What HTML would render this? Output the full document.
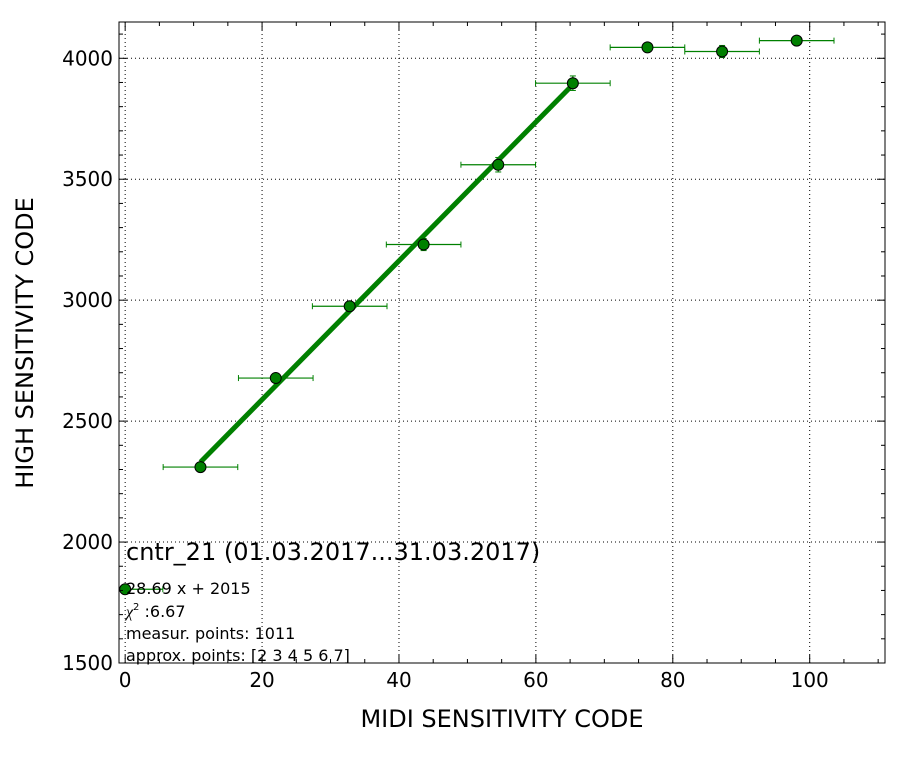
<!DOCTYPE html>
<html><head><meta charset="utf-8"><style>
body{margin:0;background:#fff}
svg text{font-family:"DejaVu Sans","Liberation Sans",sans-serif}
</style></head><body>
<svg id="chart" width="912" height="762" xmlns="http://www.w3.org/2000/svg">
<rect width="912" height="762" fill="#fff"/>
<g id="grid"></g>
<g id="marks"></g>
<rect x="119" y="22" width="766" height="641" fill="none" stroke="#000" stroke-width="1"/>
<g id="axes"></g>
<text x="502" y="727" font-size="24" text-anchor="middle">MIDI SENSITIVITY CODE</text>
<text transform="translate(33,343) rotate(-90)" font-size="24" text-anchor="middle">HIGH SENSITIVITY CODE</text>
<text x="126" y="560" font-size="24">cntr_21 (01.03.2017...31.03.2017)</text>
<text x="126" y="594" font-size="16">28.69 x + 2015</text>
<text x="126" y="617" font-size="16"><tspan font-style="italic" font-family="Liberation Serif">χ</tspan><tspan font-size="10" dy="-7">2</tspan><tspan dy="7"> :6.67</tspan></text>
<text x="126" y="639" font-size="16">measur. points: 1011</text>
<text x="126" y="661" font-size="16">approx. points: [2 3 4 5 6 7]</text>
</svg>
<script>
const xVals=[0,11,22,32.8,43.6,54.5,65.4,76.3,87.2,98.1];
const yVals=[1805,2310,2678,2975,3230,3560,3897,4045,4028,4073];
const xErr=[5.5,5.45,5.45,5.45,5.45,5.45,5.45,5.45,5.45,5.45];
const yErr=[8,12,15,18,25,30,30,15,25,15];
const fitSlope=28.69, fitIntercept=2015;
const fitRange=[11,65.4];
const xTicks=[0,20,40,60,80,100];
const yTicks=[1500,2000,2500,3000,3500,4000];
const L=119,R=885,T=22,B=663,X0=-0.9,X1=111,Y0=1500,Y1=4150;
const sx=v=>L+(v-X0)/(X1-X0)*(R-L);
const sy=v=>B-(v-Y0)/(Y1-Y0)*(B-T);
const NS='http://www.w3.org/2000/svg';
function mk(tag,parent,attrs){const e=document.createElementNS(NS,tag);for(const k in attrs)e.setAttribute(k,attrs[k]);document.getElementById(parent).appendChild(e);return e;}
const green='#008000';
xTicks.forEach(t=>{const x=sx(t);
 let g=mk('line','grid',{x1:x,x2:x,y1:T,y2:B,stroke:'#000','stroke-dasharray':'1,3','stroke-width':1});
 
 mk('line','axes',{x1:x,x2:x,y1:B,y2:B-8,stroke:'#000'});mk('line','axes',{x1:x,x2:x,y1:T,y2:T+8,stroke:'#000'});
 let tx=mk('text','axes',{x:x,y:B+24,'font-size':20,'text-anchor':'middle'});tx.textContent=t;
 });
for(let m=0;m<=110;m+=5){if(m%20===0)continue;const x=sx(m);mk('line','axes',{x1:x,x2:x,y1:B,y2:B-4,stroke:'#000'});mk('line','axes',{x1:x,x2:x,y1:T,y2:T+4,stroke:'#000'});}
yTicks.forEach(t=>{const y=sy(t);
 let g=mk('line','grid',{x1:L,x2:R,y1:y,y2:y,stroke:'#000','stroke-dasharray':'1,3','stroke-width':1});
 
 mk('line','axes',{x1:L,x2:L+8,y1:y,y2:y,stroke:'#000'});mk('line','axes',{x1:R,x2:R-8,y1:y,y2:y,stroke:'#000'});
 let tx=mk('text','axes',{x:L-6,y:y+7,'font-size':20,'text-anchor':'end'});tx.textContent=t;
 });
for(let m=1500;m<=4100;m+=100){if(m%500===0)continue;const y=sy(m);mk('line','axes',{x1:L,x2:L+4,y1:y,y2:y,stroke:'#000'});mk('line','axes',{x1:R,x2:R-4,y1:y,y2:y,stroke:'#000'});}
// fit line
let fl=mk('line','marks',{x1:sx(fitRange[0]),y1:sy(fitSlope*fitRange[0]+fitIntercept),x2:sx(fitRange[1]),y2:sy(fitSlope*fitRange[1]+fitIntercept),stroke:green,'stroke-width':5});

xVals.forEach((v,i)=>{const x=sx(v),y=sy(yVals[i]);
 const xa=Math.max(L,sx(v-xErr[i])),xb=sx(v+xErr[i]);
 mk('line','marks',{x1:xa,x2:xb,y1:y,y2:y,stroke:green,'stroke-width':1.2});
 if(sx(v-xErr[i])>=L)mk('line','marks',{x1:xa,x2:xa,y1:y-3,y2:y+3,stroke:green});
 mk('line','marks',{x1:xb,x2:xb,y1:y-3,y2:y+3,stroke:green});
 const ya=sy(yVals[i]-yErr[i]),yb=sy(yVals[i]+yErr[i]);
 mk('line','marks',{x1:x,x2:x,y1:ya,y2:yb,stroke:green,'stroke-width':1.2});
 mk('line','marks',{x1:x-3,x2:x+3,y1:ya,y2:ya,stroke:green});mk('line','marks',{x1:x-3,x2:x+3,y1:yb,y2:yb,stroke:green});
 let c=mk('circle','marks',{cx:x,cy:y,r:5.5,fill:green,stroke:'#000','stroke-width':1});
 });
</script>
</body></html>
